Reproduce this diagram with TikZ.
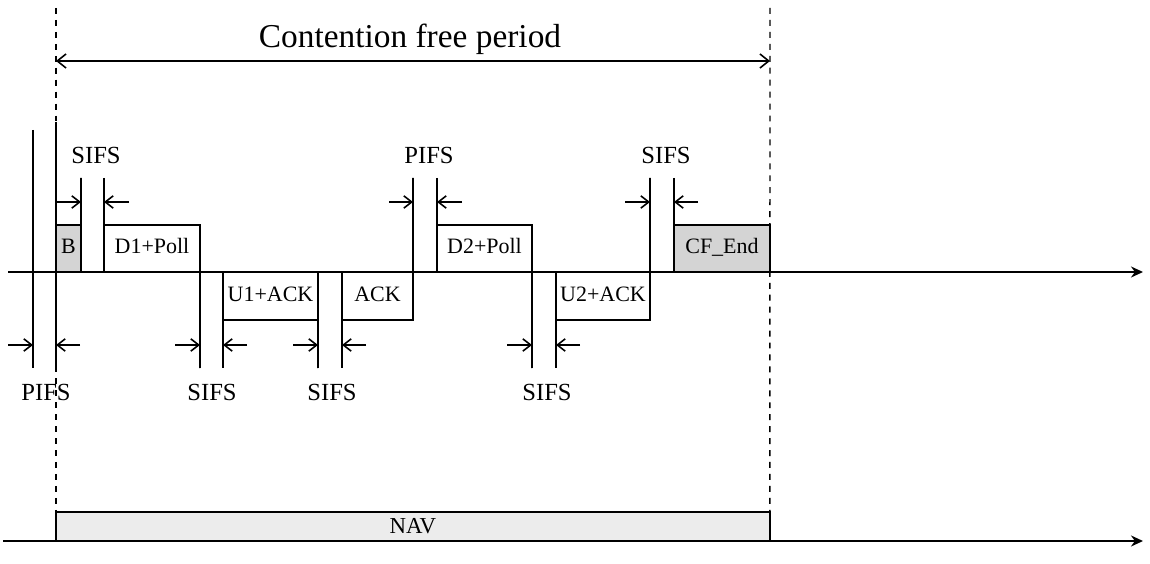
\documentclass[tikz,border=0pt]{standalone}
\usepackage{fontspec}
\setmainfont{Liberation Serif}
\usepackage{tikz}
\usetikzlibrary{arrows.meta,positioning}
\definecolor{shadegray}{RGB}{212,212,212}
\definecolor{navgray}{RGB}{236,236,236}

\begin{document}
\begin{tikzpicture}[
  x=0.02cm, y=-0.02cm,
  every node/.style={inner sep=0pt},
  upframe/.style={draw=black, line width=0.9pt, anchor=south west, outer sep=0pt,
               minimum height=0.94cm, text height=1.6ex, text depth=0.35ex,
               font=\fontsize{12.5}{14}\selectfont},
  downframe/.style={draw=black, line width=0.9pt, anchor=north west, outer sep=0pt,
               minimum height=0.96cm, text height=1.6ex, text depth=0.35ex,
               font=\fontsize{12.5}{14}\selectfont},
  marker/.style={line width=0.9pt},
  gap/.style={-{Straight Barb[length=4.5pt,width=7pt]}, line width=0.9pt},
  timeline/.style={-{Stealth[length=0.24cm,width=0.22cm]}, line width=1pt},
  bound/.style={dash pattern=on 3.4pt off 3.4pt, line width=0.8pt},
  lbl/.style={font=\fontsize{14}{16}\selectfont},
]
\useasboundingbox (0,0) rectangle (1150,564);

% time axes
\coordinate (axL)  at (8,272);
\coordinate (axR)  at (1143,272);
\coordinate (navL) at (3,541);
\coordinate (navR) at (1143,541);
\draw[timeline] (axL) -- (axR);

% frames above and below the axis
\node[upframe, minimum width=0.5cm, fill=shadegray]  (b)  at (56,272)  {B};
\node[upframe, minimum width=1.92cm]                 (d1) at (104,272) {D1+Poll};
\node[downframe, minimum width=1.9cm]                (u1) at (223,272) {U1+ACK};
\node[downframe, minimum width=1.42cm]               (ack) at (342,272) {ACK};
\node[upframe, minimum width=1.9cm]                  (d2) at (437,272) {D2+Poll};
\node[downframe, minimum width=1.88cm]               (u2) at (556,272) {U2+ACK};
\node[upframe, minimum width=1.92cm, fill=shadegray] (cf) at (674,272) {CF\_End};

% NAV
\node[draw=black, line width=0.9pt, fill=navgray, anchor=south west, outer sep=0pt,
      minimum width=14.28cm, minimum height=0.58cm,
      font=\fontsize{13}{15}\selectfont] (nav) at (56,541) {NAV};
\draw[timeline] (navL) -- (navR);

% contention free period
\coordinate (cfpL) at (56,61);
\coordinate (cfpR) at (770,61);
\coordinate (topL) at (56,8);
\coordinate (topR) at (770,8);
\node[font=\fontsize{19}{22}\selectfont, anchor=base] (cfp) at (410,48) {Contention free period};
\draw[bound] (topL) -- (nav.north west);
\draw[bound] (topR) -- (nav.north east);
\draw[{Straight Barb[length=5pt,width=8pt]}-{Straight Barb[length=5pt,width=8pt]}, line width=0.9pt] (cfpL) -- (cfpR);

% long markers
\coordinate (p0top) at (33,130);
\coordinate (p0bot) at (33,368);
\coordinate (p1top) at (56,122);
\coordinate (p1bot) at (56,368);
\draw[marker] (p0top) -- (p0bot);
\draw[marker] (p1top) -- (p1bot);

% upper gaps
\coordinate (s1a) at (81,178);
\coordinate (s1b) at (104,178);
\coordinate (p2a) at (413,178);
\coordinate (p2b) at (437,178);
\coordinate (s4a) at (650,178);
\coordinate (s4b) at (674,178);
\draw[marker] (s1a) -- (b.south east);
\draw[marker] (s1b) -- (d1.south west);
\draw[marker] (p2a) -- (ack.north east);
\draw[marker] (p2b) -- (d2.south west);
\draw[marker] (s4a) -- (u2.north east);
\draw[marker] (s4b) -- (cf.south west);

% lower gaps
\coordinate (s2a) at (200,368);
\coordinate (s2b) at (223,368);
\coordinate (s3a) at (318,368);
\coordinate (s3b) at (342,368);
\coordinate (s5a) at (532,368);
\coordinate (s5b) at (556,368);
\draw[marker] (d1.south east) -- (s2a);
\draw[marker] (u1.north west) -- (s2b);
\draw[marker] (u1.north east) -- (s3a);
\draw[marker] (ack.north west) -- (s3b);
\draw[marker] (d2.south east) -- (s5a);
\draw[marker] (u2.north west) -- (s5b);

% gap arrows
\coordinate (g0a) at (33,345);  \coordinate (g0b) at (56,345);
\coordinate (g1a) at (81,202);  \coordinate (g1b) at (104,202);
\coordinate (g2a) at (200,345); \coordinate (g2b) at (223,345);
\coordinate (g3a) at (318,345); \coordinate (g3b) at (342,345);
\coordinate (g4a) at (413,202); \coordinate (g4b) at (437,202);
\coordinate (g5a) at (532,345); \coordinate (g5b) at (556,345);
\coordinate (g6a) at (650,202); \coordinate (g6b) at (674,202);
\draw[gap] (g0a) ++(-25,0) -- (g0a); \draw[gap] (g0b) ++(24,0) -- (g0b);
\draw[gap] (g1a) ++(-25,0) -- (g1a); \draw[gap] (g1b) ++(25,0) -- (g1b);
\draw[gap] (g2a) ++(-25,0) -- (g2a); \draw[gap] (g2b) ++(24,0) -- (g2b);
\draw[gap] (g3a) ++(-25,0) -- (g3a); \draw[gap] (g3b) ++(24,0) -- (g3b);
\draw[gap] (g4a) ++(-24,0) -- (g4a); \draw[gap] (g4b) ++(25,0) -- (g4b);
\draw[gap] (g5a) ++(-25,0) -- (g5a); \draw[gap] (g5b) ++(24,0) -- (g5b);
\draw[gap] (g6a) ++(-25,0) -- (g6a); \draw[gap] (g6b) ++(24,0) -- (g6b);

% gap labels
\node[lbl] (l0) at (46,392)  {PIFS};
\node[lbl] (l1) at (96,155)  {SIFS};
\node[lbl] (l2) at (212,392) {SIFS};
\node[lbl] (l3) at (332,392) {SIFS};
\node[lbl] (l4) at (429,155) {PIFS};
\node[lbl] (l5) at (547,392) {SIFS};
\node[lbl] (l6) at (666,155) {SIFS};
\end{tikzpicture}
\end{document}
